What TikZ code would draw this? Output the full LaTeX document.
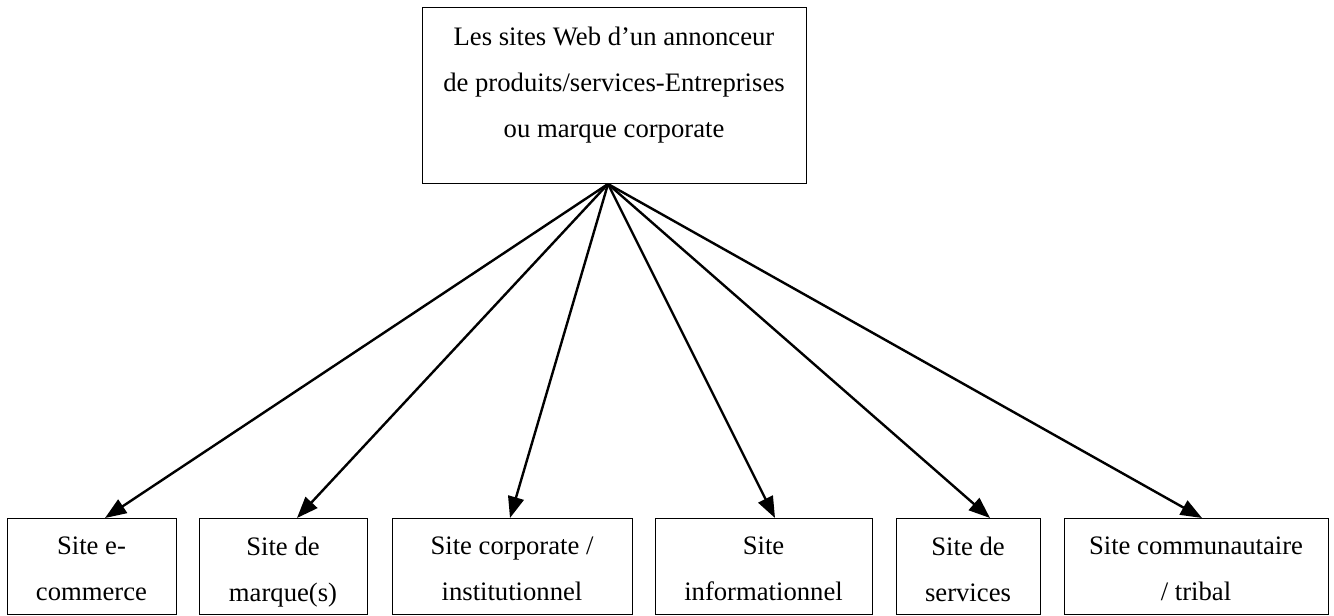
\documentclass[tikz,border=0pt]{standalone}
\usepackage{fontspec}
\setmainfont{Liberation Serif}
\usetikzlibrary{arrows.meta}
\begin{document}
\begin{tikzpicture}[x=0.75pt,y=-0.75pt,
  box/.style={draw=black,line width=0.75pt,rectangle,inner sep=0pt,outer sep=0pt},
  label/.style={align=center,inner sep=0pt,anchor=north,
    font=\fontsize{20}{34.5}\selectfont},
  link/.style={line width=1.8pt,-{Triangle[length=16pt,width=12pt]}}]
\useasboundingbox (0,0) rectangle (1334,616);

% parent box
\node[box,minimum width=288pt,minimum height=132pt] (top) at (614,96) {};
\node[label] (toptext) at (614,27) {Les sites Web d’un annonceur\\de produits/services-Entreprises\\ou marque corporate};

% child boxes
\node[box,minimum width=126.75pt,minimum height=72pt] (b1) at (91.5,566) {};
\node[box,minimum width=126pt,minimum height=72pt] (b2) at (283,566) {};
\node[box,minimum width=180pt,minimum height=72pt] (b3) at (512,566) {};
\node[box,minimum width=162.75pt,minimum height=72pt] (b4) at (763.5,566) {};
\node[box,minimum width=108pt,minimum height=72pt] (b5) at (968,566) {};
\node[box,minimum width=198pt,minimum height=72pt] (b6) at (1196,566) {};

\node[label] (l1) at (91.5,537) {Site e-\\commerce};
\node[label] (l2) at (283,537) {Site de\\marque(s)};
\node[label] (l3) at (512,537) {Site corporate /\\institutionnel};
\node[label] (l4) at (763.5,537) {Site\\informationnel};
\node[label] (l5) at (968,537) {Site de\\services};
\node[label] (l6) at (1196,537) {Site communautaire\\/ tribal};

% fan of arrows from one point on the parent's lower edge
\coordinate (apex) at (608,184);
\coordinate (t1) at (105,518);
\coordinate (t2) at (297,518);
\coordinate (t3) at (510,518);
\coordinate (t4) at (775,518);
\coordinate (t5) at (990,518);
\coordinate (t6) at (1202,518);
\foreach \i in {1,...,6}{\draw[link] (apex) -- (t\i);}
\end{tikzpicture}
\end{document}
